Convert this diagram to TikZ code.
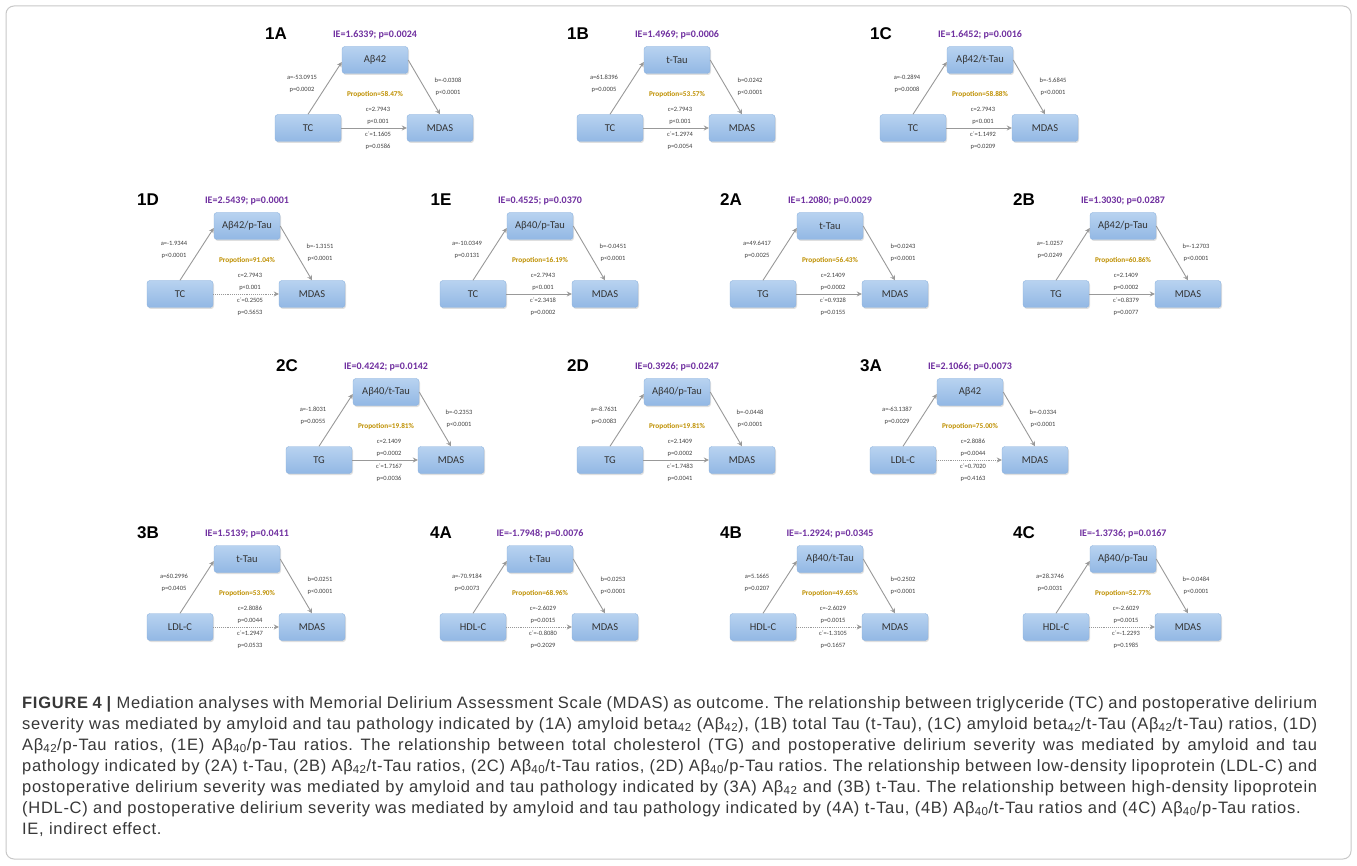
\documentclass[tikz,border=0pt]{standalone}
\usepackage{fontspec}
\setmainfont{Liberation Sans}[LetterSpace=4.3]
\newfontfamily\calfont{Carlito}
\newfontfamily\arialfont{Liberation Sans}
\usetikzlibrary{arrows.meta,shadows}
\definecolor{boxtop}{RGB}{184,210,240}
\definecolor{boxbot}{RGB}{146,184,228}
\definecolor{boxline}{RGB}{140,178,222}
\definecolor{iecol}{RGB}{112,48,160}
\definecolor{propcol}{RGB}{191,144,0}
\definecolor{framecol}{RGB}{200,200,200}
\tikzset{
  box/.style={rounded corners=3pt, minimum width=66pt, minimum height=27pt, inner sep=1pt,
    top color=boxtop, bottom color=boxbot, draw=boxline, line width=0.4pt,
    drop shadow={shadow xshift=1pt, shadow yshift=-1.5pt, opacity=0.25},
    font=\calfont\fontsize{10.5}{12}\selectfont, text=black!80},
  plab/.style={font=\arialfont\bfseries\fontsize{17}{19}\selectfont, text=black, inner sep=0pt},
  ielab/.style={font=\calfont\bfseries\fontsize{10}{12}\selectfont, text=iecol, inner sep=0pt},
  proplab/.style={font=\calfont\bfseries\fontsize{7.3}{9}\selectfont, text=propcol, inner sep=0pt},
  smalllab/.style={font=\calfont\fontsize{6.5}{12}\selectfont, text=black!75, align=center, inner sep=0pt},
  arr/.style={draw=black!40, line width=0.9pt, -{Stealth[length=5pt,width=5pt]}},
  captext/.style={font=\fontsize{16.5}{18}\selectfont\frenchspacing, text=black!78, inner sep=0pt, anchor=base west}
}
\newcommand\pA[9]{\def\pid{#1}\def\mx{#2}\def\my{#3}\def\pie{#4}\def\pX{#5}\def\pM{#6}\def\pa{#7}\def\ppa{#8}\def\pb{#9}}
\newcommand\pB[7]{\def\ppb{#1}\def\pprop{#2}\def\pc{#3}\def\ppc{#4}\def\pcp{#5}\def\ppcp{#6}\def\pdot{#7}\drawpanel}
\newcommand\drawpanel{%
\begin{scope}[shift={(\mx,\my)}]
  \node[plab] (L\pid) at (-99,-26) {\pid};
  \node[ielab] (IE\pid) at (0,-25) {\pie};
  \node[box] (M\pid) at (0,0) {\pM};
  \node[box] (X\pid) at (-67,68) {\pX};
  \node[box] (Y\pid) at (65,68) {MDAS};
  \node[smalllab] (A\pid) at (-73,24) {\pa\\\ppa};
  \node[smalllab] (B\pid) at (73,27) {\pb\\\ppb};
  \node[proplab] (P\pid) at (0,35) {\pprop};
  \node[smalllab] (C\pid) at (3,56) {\pc\\\ppc};
  \node[smalllab] (D\pid) at (3,81) {\pcp\\\ppcp};
  \draw[arr] (X\pid.north) -- ([yshift=-2pt]M\pid.west);
  \draw[arr] (M\pid.east) -- (Y\pid.north);
  \ifnum\pdot=1
    \draw[arr,densely dotted] (X\pid.east) -- (Y\pid.west);
  \else
    \draw[arr] (X\pid.east) -- (Y\pid.west);
  \fi
\end{scope}}
\newcommand\sub[1]{\textsubscript{#1}}
\begin{document}
\begin{tikzpicture}[x=1pt,y=-1pt]
\useasboundingbox (0,0) rectangle (1357,866);
\fill[white] (0,0) rectangle (1357,866);
\draw[framecol, rounded corners=8pt, line width=1pt] (6,6) rectangle (1351,859);
% Row 1
\pA{1A}{375}{60}{IE=1.6339; p=0.0024}{TC}{Aβ42}{a=-53.0915}{p=0.0002}{b=-0.0308}
\pB{p<0.0001}{Propotion=58.47\%}{c=2.7943}{p<0.001}{c´=1.1605}{p=0.0586}{0}
\pA{1B}{677}{60}{IE=1.4969; p=0.0006}{TC}{t-Tau}{a=61.8396}{p=0.0005}{b=0.0242}
\pB{p<0.0001}{Propotion=53.57\%}{c=2.7943}{p<0.001}{c´=1.2974}{p=0.0054}{0}
\pA{1C}{980}{60}{IE=1.6452; p=0.0016}{TC}{Aβ42/t-Tau}{a=-0.2894}{p=0.0008}{b=-5.6845}
\pB{p<0.0001}{Propotion=58.88\%}{c=2.7943}{p<0.001}{c´=1.1492}{p=0.0209}{0}
% Row 2
\pA{1D}{247}{226}{IE=2.5439; p=0.0001}{TC}{Aβ42/p-Tau}{a=-1.9344}{p<0.0001}{b=-1.3151}
\pB{p<0.0001}{Propotion=91.04\%}{c=2.7943}{p<0.001}{c´=0.2505}{p=0.5653}{1}
\pA{1E}{540}{226}{IE=0.4525; p=0.0370}{TC}{Aβ40/p-Tau}{a=-10.0349}{p=0.0131}{b=-0.0451}
\pB{p<0.0001}{Propotion=16.19\%}{c=2.7943}{p<0.001}{c´=2.3418}{p=0.0002}{0}
\pA{2A}{830}{226}{IE=1.2080; p=0.0029}{TG}{t-Tau}{a=49.6417}{p=0.0025}{b=0.0243}
\pB{p<0.0001}{Propotion=56.43\%}{c=2.1409}{p=0.0002}{c´=0.9328}{p=0.0155}{0}
\pA{2B}{1123}{226}{IE=1.3030; p=0.0287}{TG}{Aβ42/p-Tau}{a=-1.0257}{p=0.0249}{b=-1.2703}
\pB{p<0.0001}{Propotion=60.86\%}{c=2.1409}{p=0.0002}{c´=0.8379}{p=0.0077}{0}
% Row 3
\pA{2C}{386}{392}{IE=0.4242; p=0.0142}{TG}{Aβ40/t-Tau}{a=-1.8031}{p=0.0055}{b=-0.2353}
\pB{p<0.0001}{Propotion=19.81\%}{c=2.1409}{p=0.0002}{c´=1.7167}{p=0.0036}{0}
\pA{2D}{677}{392}{IE=0.3926; p=0.0247}{TG}{Aβ40/p-Tau}{a=-8.7631}{p=0.0083}{b=-0.0448}
\pB{p<0.0001}{Propotion=19.81\%}{c=2.1409}{p=0.0002}{c´=1.7483}{p=0.0041}{0}
\pA{3A}{970}{392}{IE=2.1066; p=0.0073}{LDL-C}{Aβ42}{a=-63.1387}{p=0.0029}{b=-0.0334}
\pB{p<0.0001}{Propotion=75.00\%}{c=2.8086}{p=0.0044}{c´=0.7020}{p=0.4163}{1}
% Row 4
\pA{3B}{247}{559}{IE=1.5139; p=0.0411}{LDL-C}{t-Tau}{a=60.2996}{p=0.0405}{b=0.0251}
\pB{p<0.0001}{Propotion=53.90\%}{c=2.8086}{p=0.0044}{c´=1.2947}{p=0.0533}{1}
\pA{4A}{540}{559}{IE=-1.7948; p=0.0076}{HDL-C}{t-Tau}{a=-70.9184}{p=0.0073}{b=0.0253}
\pB{p<0.0001}{Propotion=68.96\%}{c=-2.6029}{p=0.0015}{c´=-0.8080}{p=0.2029}{1}
\pA{4B}{830}{559}{IE=-1.2924; p=0.0345}{HDL-C}{Aβ40/t-Tau}{a=5.1665}{p=0.0207}{b=0.2502}
\pB{p<0.0001}{Propotion=49.65\%}{c=-2.6029}{p=0.0015}{c´=-1.3105}{p=0.1657}{1}
\pA{4C}{1123}{559}{IE=-1.3736; p=0.0167}{HDL-C}{Aβ40/p-Tau}{a=28.3746}{p=0.0031}{b=-0.0484}
\pB{p<0.0001}{Propotion=52.77\%}{c=-2.6029}{p=0.0015}{c´=-1.2293}{p=0.1985}{1}
% Caption
\node[captext] (cap1) at (22,708) {\makebox[1295pt][s]{\textbf{FIGURE 4 |} Mediation analyses with Memorial Delirium Assessment Scale (MDAS) as outcome. The relationship between triglyceride (TC) and postoperative delirium}};
\node[captext] (cap2) at (22,729) {\makebox[1295pt][s]{severity was mediated by amyloid and tau pathology indicated by (1A) amyloid beta\sub{42} (Aβ\sub{42}), (1B) total Tau (t-Tau), (1C) amyloid beta\sub{42}/t-Tau (Aβ\sub{42}/t-Tau) ratios, (1D)}};
\node[captext] (cap3) at (22,750) {\makebox[1295pt][s]{Aβ\sub{42}/p-Tau ratios, (1E) Aβ\sub{40}/p-Tau ratios. The relationship between total cholesterol (TG) and postoperative delirium severity was mediated by amyloid and tau}};
\node[captext] (cap4) at (22,771) {\makebox[1295pt][s]{pathology indicated by (2A) t-Tau, (2B) Aβ\sub{42}/t-Tau ratios, (2C) Aβ\sub{40}/t-Tau ratios, (2D) Aβ\sub{40}/p-Tau ratios. The relationship between low-density lipoprotein (LDL-C) and}};
\node[captext] (cap5) at (22,792) {\makebox[1295pt][s]{postoperative delirium severity was mediated by amyloid and tau pathology indicated by (3A) Aβ\sub{42} and (3B) t-Tau. The relationship between high-density lipoprotein}};
\node[captext] (cap6) at (22,813) {(HDL-C) and postoperative delirium severity was mediated by amyloid and tau pathology indicated by (4A) t-Tau, (4B) Aβ\sub{40}/t-Tau ratios and (4C) Aβ\sub{40}/p-Tau ratios.};
\node[captext] (cap7) at (22,834) {IE, indirect effect.};
\end{tikzpicture}
\end{document}
